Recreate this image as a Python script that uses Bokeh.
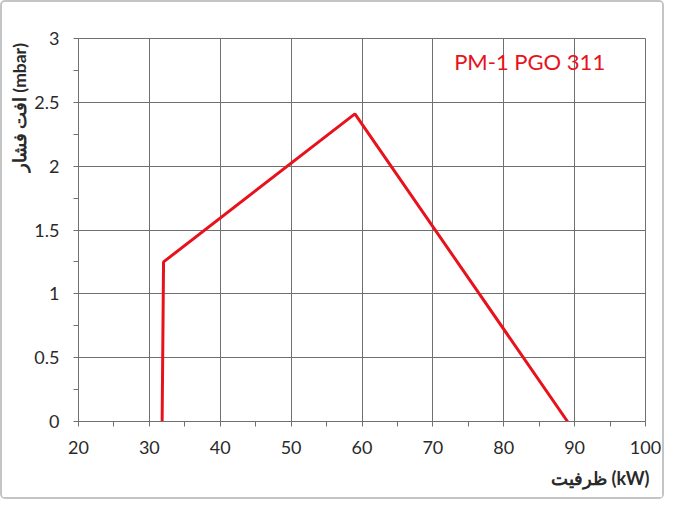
from bokeh.plotting import figure
from bokeh.models import FixedTicker, NumeralTickFormatter, Range1d, Label, Title
from bokeh.embed import file_html
from bokeh.resources import INLINE

# ---- data ----
capacity_kw = [31.8, 32.0, 59.0, 89.0]
pressure_mbar = [0.0, 1.25, 2.41, 0.0]
x_ticks = [20, 30, 40, 50, 60, 70, 80, 90, 100]
x_minor = [25, 35, 45, 55, 65, 75, 85, 95]
y_ticks = [0, 0.5, 1, 1.5, 2, 2.5, 3]
y_minor = [0.25, 0.75, 1.25, 1.75, 2.25, 2.75]
series_name = "PM-1 PGO 311"
x_title = "ظرفیت (kW)"
y_title = "افت فشار (mbar)"

RED = "#e8121c"
GRID = "#707070"
TXT = "#2a2a2a"
FONT = "Lato"

p = figure(width=664, height=499, output_backend="svg", toolbar_location=None,
           x_range=Range1d(20, 100), y_range=Range1d(0, 3),
           min_border_left=76, min_border_right=21, min_border_top=36, min_border_bottom=80)
p.styles = {"border": "2px solid #c4c4c4", "border-radius": "5px"}
p.background_fill_color = "white"
p.border_fill_color = "white"
p.outline_line_color = GRID
p.outline_line_width = 1

p.line(capacity_kw, pressure_mbar, line_color=RED, line_width=3)

p.xaxis.ticker = FixedTicker(ticks=x_ticks, minor_ticks=x_minor)
p.yaxis.ticker = FixedTicker(ticks=y_ticks, minor_ticks=y_minor)
p.yaxis.formatter = NumeralTickFormatter(format="0.[0]")

for ax in (p.xaxis, p.yaxis):
    ax.axis_line_color = GRID
    ax.major_tick_line_color = GRID
    ax.minor_tick_line_color = GRID
    ax.major_tick_out = 5
    ax.major_tick_in = 0
    ax.minor_tick_out = 5
    ax.minor_tick_in = 0
    ax.major_label_text_font = FONT
    ax.major_label_text_font_size = "18px"
    ax.major_label_text_color = TXT

p.xaxis.major_label_standoff = 14
p.yaxis.major_label_standoff = 14

p.xgrid.grid_line_color = GRID
p.ygrid.grid_line_color = GRID
p.xgrid.grid_line_width = 1
p.ygrid.grid_line_width = 1

p.add_layout(Label(x=73.0, y=2.818, text=series_name, text_color=RED,
                   text_font=FONT, text_font_size="22px", text_baseline="alphabetic"))

# axis titles as side-panel titles
xt = Title(text=x_title, align="right", offset=-4, standoff=16,
           text_color=TXT, text_font=FONT, text_font_size="18px", text_font_style="bold")
yt = Title(text=y_title, align="right", offset=5, standoff=3,
           text_color=TXT, text_font=FONT, text_font_size="17.5px", text_font_style="bold")
p.add_layout(xt, "below")
p.add_layout(yt, "left")

open("out.html", "w").write(file_html(p, INLINE))
